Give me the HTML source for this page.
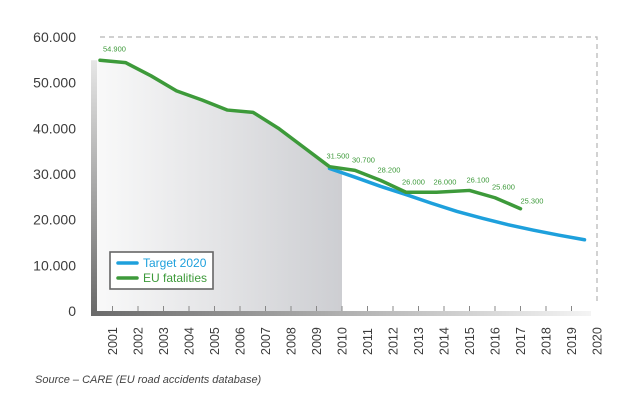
<!DOCTYPE html>
<html><head><meta charset="utf-8"><style>
body{margin:0;background:#fff;width:639px;height:402px;overflow:hidden;font-family:"Liberation Sans",sans-serif}
</style></head><body>
<svg width="639" height="402">
<defs>
<linearGradient id="area" x1="0" y1="0" x2="1" y2="0"><stop offset="0" stop-color="#fafafa"/><stop offset="1" stop-color="#cdced2"/></linearGradient>
<linearGradient id="bot" x1="0" y1="0" x2="1" y2="0"><stop offset="0" stop-color="#6a6a6a"/><stop offset="1" stop-color="#f4f4f4"/></linearGradient>
<linearGradient id="lft" x1="0" y1="0" x2="0" y2="1"><stop offset="0" stop-color="#e6e6e6"/><stop offset="1" stop-color="#6a6a6a"/></linearGradient>
</defs>
<g id="g"></g>
</svg>
<script>
const years=[2001,2002,2003,2004,2005,2006,2007,2008,2009,2010,2011,2012,2013,2014,2015,2016,2017,2018,2019,2020];
const yTicks=[0,10000,20000,30000,40000,50000,60000];
const yTickLabels=["0","10.000","20.000","30.000","40.000","50.000","60.000"];
const euYears=[2001,2002,2003,2004,2005,2006,2007,2008,2009,2010,2011,2012,2013,2014,2015,2016,2017];
const euValues=[54900,54400,51500,48200,46200,44000,43500,40000,35800,31600,30800,28600,26000,26000,26400,24800,22400];
const labelYears=[2001,2010,2011,2012,2013,2014,2015,2016,2017];
const labelTexts=["54.900","31.500","30.700","28.200","26.000","26.000","26.100","25.600","25.300"];
const targetYears=[2010,2011,2012,2013,2014,2015,2016,2017,2018,2019,2020];
const targetValues=[31200,29300,27300,25500,23600,21800,20300,18900,17700,16600,15600];
const NS="http://www.w3.org/2000/svg";
const g=document.getElementById('g');
function xt(y){return 112.5+(y-2001)*25.5;}
function xd(y){return xt(y)-12.5;}
function xe(y){return y>=2015?xt(y):(y==2014?xd(y)+5:xd(y));}
function ys(v){return 311-v/60000*274;}
function el(t,a,p){const e=document.createElementNS(NS,t);for(const k in a)e.setAttribute(k,a[k]);(p||g).appendChild(e);return e;}
let ad="M91,311 L91,"+ys(euValues[0]);
euValues.forEach((v,i)=>{if(euYears[i]<=2010)ad+=" L"+xe(euYears[i])+","+ys(v);});
ad+=" L"+xt(2010)+","+ys(31000)+" L"+xt(2010)+",311 Z";
const area=el('path',{d:ad,fill:'url(#area)'});


el('rect',{x:91,y:ys(euValues[0]),width:6,height:311-ys(euValues[0]),fill:'url(#lft)'});
const bb=el('rect',{x:91,y:311,width:500,height:5,fill:'url(#bot)'});


const db=el('path',{d:"M100,37 H597 V305",fill:'none',stroke:'#b5b5b5','stroke-width':1.2,'stroke-dasharray':'5,4'});


yTicks.forEach((v,i)=>{const t=el('text',{x:76,y:ys(v)+5,'text-anchor':'end','font-size':14,fill:'#3c3c3c'});t.textContent=yTickLabels[i];

});
years.forEach(y=>{if(y<2020)el('line',{x1:xt(y),x2:xt(y),y1:306,y2:311,stroke:'#888','stroke-width':1});
const t=el('text',{transform:"translate("+(xt(y)+4.5)+",355) rotate(-90)",'font-size':12.5,fill:'#3c3c3c'});t.textContent=y;

});
const tl=el('polyline',{points:targetYears.map((y,i)=>xd(y)+","+ys(targetValues[i])).join(" "),fill:'none',stroke:'#1ea0dc','stroke-width':3.5,'stroke-linecap':'round','stroke-linejoin':'round'});


const el2=el('polyline',{points:euYears.map((y,i)=>xe(y)+","+ys(euValues[i])).join(" "),fill:'none',stroke:'#3d9a3a','stroke-width':3.5,'stroke-linecap':'round','stroke-linejoin':'round'});


labelYears.forEach((y,i)=>{const v=euValues[euYears.indexOf(y)];
let x=xe(y)-3,yy=ys(v)-8;
if(i==0){x=xe(y)+3;yy=ys(v)-9;}
if(y==2017){x=xe(y);yy=ys(v)-5;}
if(y==2013){x=xe(y)-4;}
const t=el('text',{x:x,y:yy,'font-size':7.5,fill:'#3d9a3a'});
t.textContent=labelTexts[i];

});
const lg=el('g',{});


el('rect',{x:110,y:252,width:103,height:37,fill:'#fff',stroke:'#666','stroke-width':1.6},lg);
el('line',{x1:118,x2:137,y1:263,y2:263,stroke:'#1ea0dc','stroke-width':3.5,'stroke-linecap':'round'},lg);
el('line',{x1:118,x2:137,y1:278,y2:278,stroke:'#3d9a3a','stroke-width':3.5,'stroke-linecap':'round'},lg);
const l1=el('text',{x:143,y:267,'font-size':12,fill:'#1ea0dc'},lg);l1.textContent="Target 2020";


const l2=el('text',{x:143,y:282,'font-size':12,fill:'#3d9a3a'},lg);l2.textContent="EU fatalities";


const s=el('text',{x:35,y:383,'font-size':11,'font-style':'italic',fill:'#444'});s.textContent="Source – CARE (EU road accidents database)";


</script>
</body></html>
